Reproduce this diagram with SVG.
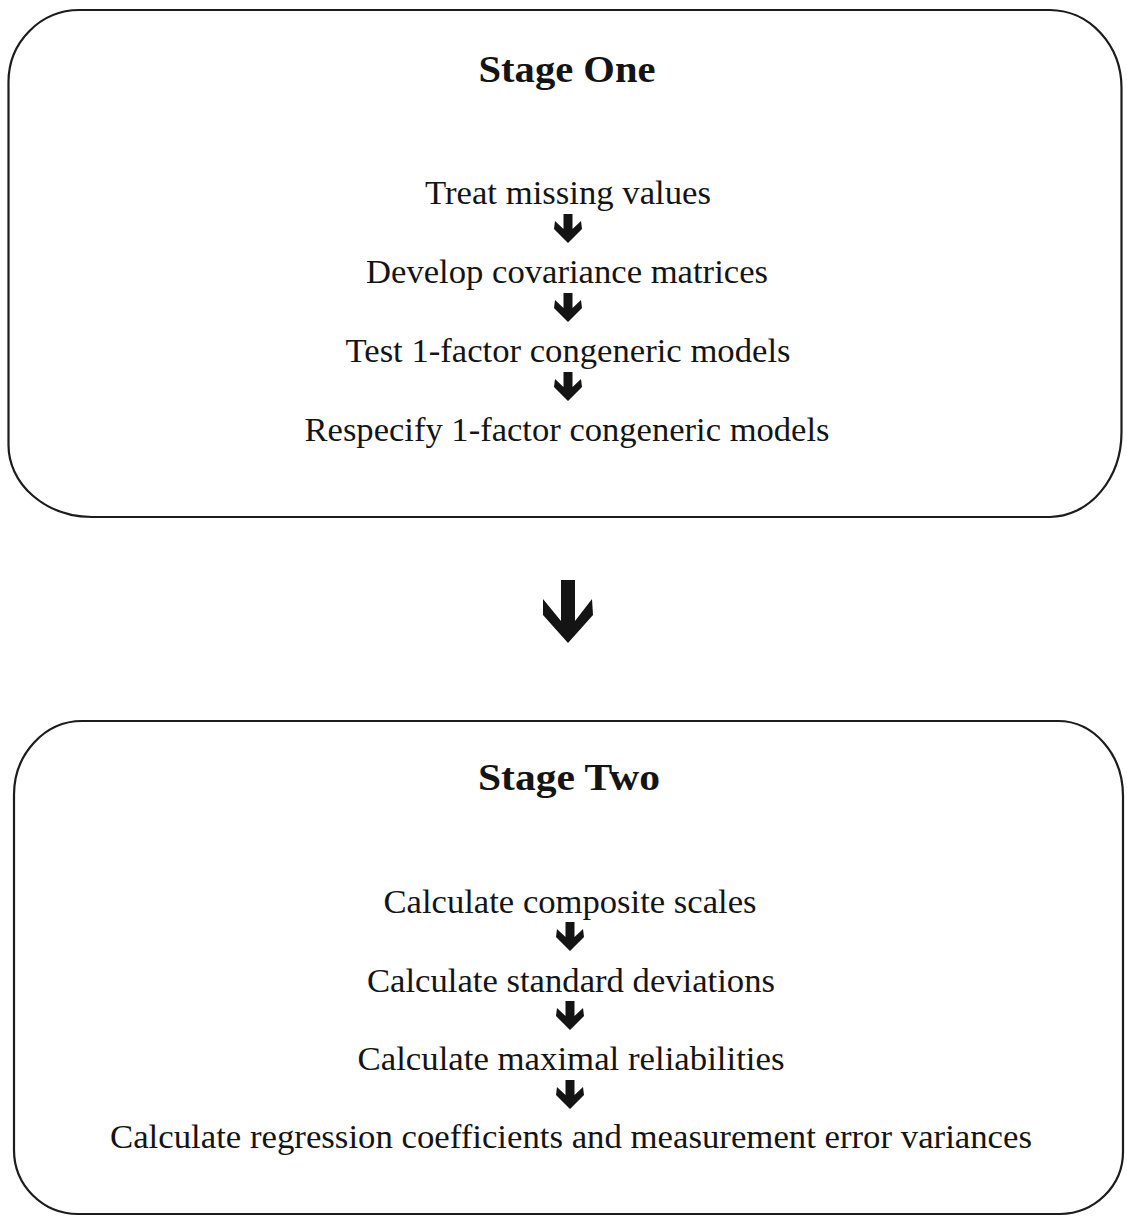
<svg xmlns="http://www.w3.org/2000/svg" width="1127" height="1216" viewBox="0 0 1127 1216">
  <style>
    .frame { fill: none; stroke: #1c1c1c; stroke-width: 2.2; }
    .title { font-family: "Liberation Serif", "Times New Roman", serif; font-weight: bold; font-size: 37px; fill: #141414; text-anchor: middle; }
    .step { font-family: "Liberation Serif", "Times New Roman", serif; font-size: 33px; fill: #141414; text-anchor: middle; }
    .arrow { fill: #141414; }
  </style>
  <defs>
    <!-- small step arrow, top-centre at origin -->
    <path id="small-arrow" class="arrow" d="M-4.5,0 L4.5,0 L4.5,15 L13,7 L14,15 L0,29 L-14,15 L-13,7 L-4.5,15 Z"/>
  </defs>

  <!-- Stage One -->
  <g id="stage-one">
    <path class="frame" d="M80,10 L1050,10 A72,78 0 0 1 1121.5,88 L1121.5,432 A72,85 0 0 1 1050,517 L92,517 A84,72 0 0 1 8.5,445 L8.5,82 A71,72 0 0 1 80,10 Z"/>
    <text class="title" x="567" y="82" textLength="177" lengthAdjust="spacingAndGlyphs">Stage One</text>
    <text class="step" x="568" y="204" textLength="286" lengthAdjust="spacingAndGlyphs">Treat missing values</text>
    <text class="step" x="567" y="283" textLength="402" lengthAdjust="spacingAndGlyphs">Develop covariance matrices</text>
    <text class="step" x="568" y="362" textLength="445" lengthAdjust="spacingAndGlyphs">Test 1-factor congeneric models</text>
    <text class="step" x="567" y="441" textLength="525" lengthAdjust="spacingAndGlyphs">Respecify 1-factor congeneric models</text>
  </g>

  <!-- Stage Two -->
  <g id="stage-two">
    <path class="frame" d="M82,721 L1058,721 A65,75 0 0 1 1123,796 L1123,1152 A64,62 0 0 1 1060,1214 L78,1214 A64,64 0 0 1 14,1150 L14,795 A68,74 0 0 1 82,721 Z"/>
    <text class="title" x="569" y="790" textLength="182" lengthAdjust="spacingAndGlyphs">Stage Two</text>
    <text class="step" x="570" y="913" textLength="373" lengthAdjust="spacingAndGlyphs">Calculate composite scales</text>
    <text class="step" x="571" y="992" textLength="408" lengthAdjust="spacingAndGlyphs">Calculate standard deviations</text>
    <text class="step" x="571" y="1070" textLength="427" lengthAdjust="spacingAndGlyphs">Calculate maximal reliabilities</text>
    <text class="step" x="571" y="1148" textLength="922" lengthAdjust="spacingAndGlyphs">Calculate regression coefficients and measurement error variances</text>
  </g>

  <!-- connectors -->
  <g id="connectors">
    <use href="#small-arrow" x="568" y="214"/>
    <use href="#small-arrow" x="568" y="293"/>
    <use href="#small-arrow" x="568" y="372"/>
    <path id="stage-arrow" class="arrow" d="M561,580 L575,580 L575,621 L592,599 L593,615 L568,643 L543,615 L543,599 L561,621 Z"/>
    <use href="#small-arrow" x="570" y="922"/>
    <use href="#small-arrow" x="570" y="1001"/>
    <use href="#small-arrow" x="570" y="1080"/>
  </g>
</svg>
